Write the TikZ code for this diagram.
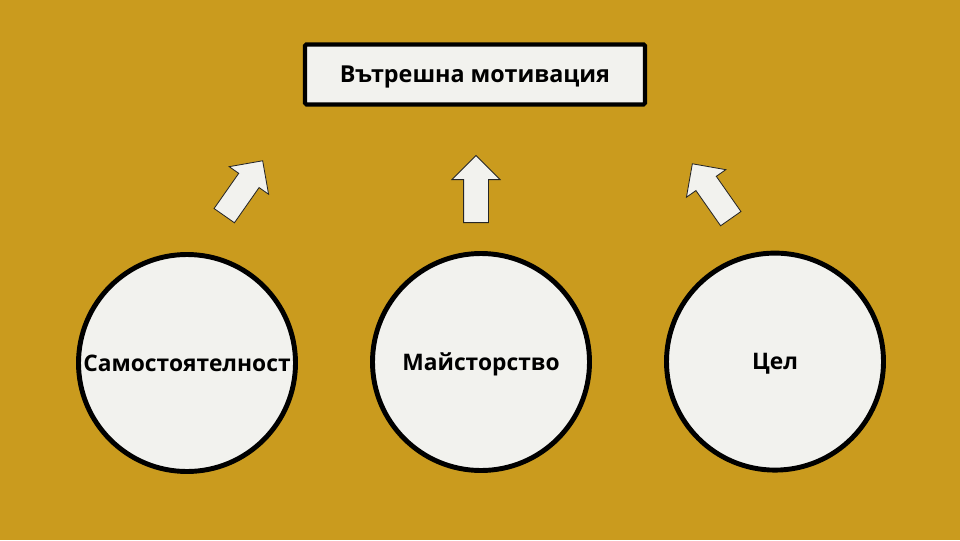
\documentclass[tikz,border=0pt]{standalone}
\usepackage{fontspec}
\setmainfont{Open Sans}
\usepackage{tikz}
\usetikzlibrary{shapes.arrows}

\definecolor{mustard}{RGB}{202,155,30}
\definecolor{paper}{RGB}{242,242,238}

\tikzset{
    topbox/.style={draw=black, line width=3pt, fill=paper, rectangle, rounded corners=1pt,
        minimum width=8.5cm, minimum height=1.5cm, font=\fontsize{16.6}{20}\selectfont\bfseries},
    bigcirc/.style={draw=black, line width=3.5pt, fill=paper, circle, inner sep=0pt,
        minimum size=5.425cm, font=\fontsize{16.2}{20}\selectfont\bfseries},
    uparrow/.style={single arrow, draw=black!85, line width=0.6pt, fill=paper,
        inner xsep=0pt, inner ysep=0.3cm,
        minimum height=1.675cm, minimum width=1.175cm, single arrow head extend=0.29cm,
        anchor=tail}
}

\begin{document}
\begin{tikzpicture}
    \fill [mustard] (0,0) rectangle (24,13.5);
    \useasboundingbox (0,0) rectangle (24,13.5);
    % goal at the top
    \node [topbox] (goal) at (11.875,11.64) {\raisebox{-6pt}[0pt][0pt]{Вътрешна мотивация}};
    % the three drivers
    \foreach \x/\y/\n/\t in {4.675/4.425/auto/Самостоятелност,12.025/4.45/mastery/Майсторство,19.375/4.46/purpose/Цел}
        \node [bigcirc] (\n) at (\x,\y) {\raisebox{-5.7pt}[0pt][0pt]{\t}};
    % arrows pointing up
    \node [uparrow, rotate=55] (arrL) at (5.6,8.1) {};
    \node [uparrow, rotate=90] (arrM) at (11.9,7.925) {};
    \node [uparrow, rotate=125] (arrR) at (18.275,8.025) {};
%    \draw (goal) -- (mastery);
\end{tikzpicture}
\end{document}
